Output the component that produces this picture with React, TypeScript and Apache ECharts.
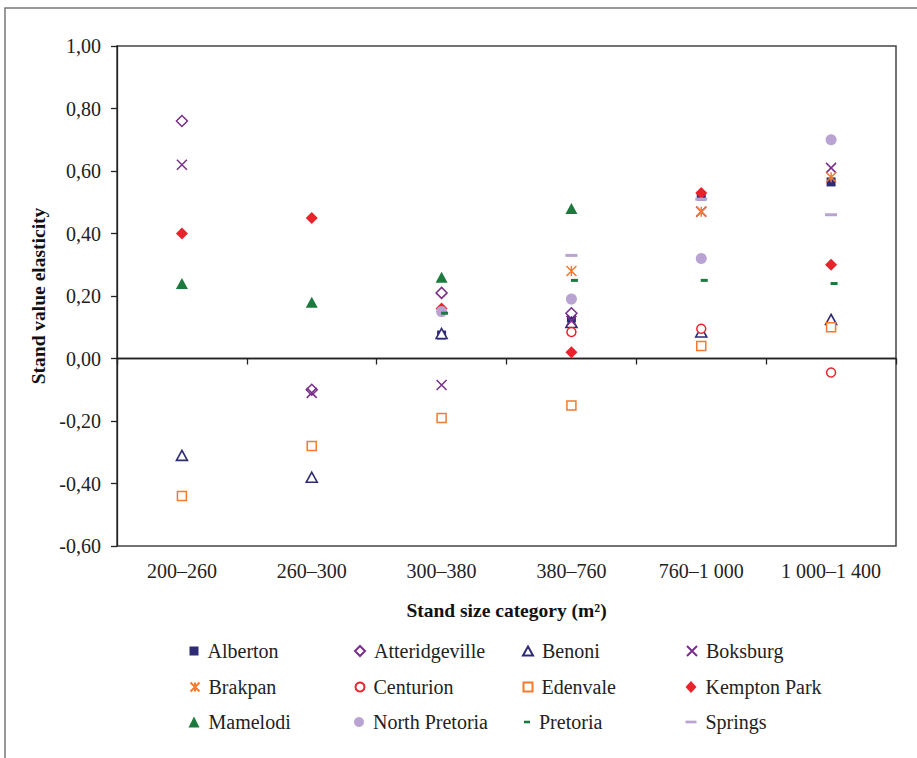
import React, { useEffect, useRef } from "react";
import * as echarts from "echarts";

// Stand size categories (m²) on the x axis
const categories = ["200–260", "260–300", "300–380", "380–760", "760–1 000", "1 000–1 400"];

// Stand value elasticity per area, one value per category (null = no estimate)
const alberton = [null, null, 0.075, 0.13, 0.52, 0.565];
const atteridgeville = [0.76, -0.1, 0.21, 0.145, null, null];
const benoni = [-0.31, -0.38, 0.08, 0.115, 0.085, 0.125];
const boksburg = [0.62, -0.11, -0.085, 0.12, 0.47, 0.61];
const brakpan = [null, null, null, 0.28, 0.47, 0.58];
const centurion = [null, null, null, 0.085, 0.095, -0.045];
const edenvale = [-0.44, -0.28, -0.19, -0.15, 0.04, 0.1];
const kemptonPark = [0.4, 0.45, 0.16, 0.02, 0.53, 0.3];
const mamelodi = [0.24, 0.18, 0.26, 0.48, null, null];
const northPretoria = [null, null, 0.15, 0.19, 0.32, 0.7];
const pretoria = [null, null, 0.145, 0.25, 0.25, 0.24];
const springs = [null, null, null, 0.33, 0.51, 0.46];

// Y axis range and step
const yMin = -0.6;
const yMax = 1.0;
const yStep = 0.2;

const FONT = "'Liberation Serif', 'Times New Roman', serif";
const NAVY = "#2c2b74";
const PURPLE = "#7a2e8c";
const ORANGE = "#f47a30";
const RED = "#e8232b";
const GREEN = "#1b7a3e";
const LILAC = "#b9a3d2";

const CROSS = "path://M0,0L10,10M10,0L0,10";
const STAR = "path://M0,0L10,10M10,0L0,10M5,0L5,10";
const DASH_S = "path://M0,0h7v3h-7z";
const DASH_L = "path://M0,0h12v3h-12z";

type Spec = {
  name: string;
  values: (number | null)[];
  symbol: string;
  size: number | number[];
  item: Record<string, unknown>;
  offset?: number[];
  legend: { x: number; y: number; w: number; h: number };
};

const ROWS = [651, 687, 722];
const COLS = [194, 359, 527, 691];

const specs: Spec[] = [
  { name: "Alberton", values: alberton, symbol: "rect", size: 9, item: { color: NAVY }, legend: { x: COLS[0], y: ROWS[0], w: 9, h: 9 } },
  { name: "Atteridgeville", values: atteridgeville, symbol: "diamond", size: 11, item: { color: "#fff", borderColor: PURPLE, borderWidth: 1.5 }, legend: { x: COLS[1], y: ROWS[0], w: 10, h: 10 } },
  { name: "Benoni", values: benoni, symbol: "triangle", size: [11, 10], item: { color: "#fff", borderColor: NAVY, borderWidth: 1.6 }, legend: { x: COLS[2], y: ROWS[0], w: 10, h: 9 } },
  { name: "Boksburg", values: boksburg, symbol: CROSS, size: 10, item: { color: "transparent", borderColor: PURPLE, borderWidth: 1.5 }, legend: { x: COLS[3], y: ROWS[0], w: 10, h: 10 } },
  { name: "Brakpan", values: brakpan, symbol: STAR, size: 10, item: { color: "transparent", borderColor: ORANGE, borderWidth: 1.5 }, legend: { x: COLS[0], y: ROWS[1], w: 9, h: 10 } },
  { name: "Centurion", values: centurion, symbol: "circle", size: 9, item: { color: "#fff", borderColor: RED, borderWidth: 1.5 }, legend: { x: COLS[1], y: ROWS[1], w: 9, h: 9 } },
  { name: "Edenvale", values: edenvale, symbol: "rect", size: 9, item: { color: "#fff", borderColor: ORANGE, borderWidth: 1.5 }, legend: { x: COLS[2], y: ROWS[1], w: 9, h: 9 } },
  { name: "Kempton Park", values: kemptonPark, symbol: "diamond", size: 12, item: { color: RED }, legend: { x: COLS[3], y: ROWS[1], w: 11, h: 12 } },
  { name: "Mamelodi", values: mamelodi, symbol: "triangle", size: [12, 11], item: { color: GREEN }, legend: { x: COLS[0], y: ROWS[2], w: 11, h: 11 } },
  { name: "North Pretoria", values: northPretoria, symbol: "circle", size: 11, item: { color: LILAC }, legend: { x: COLS[1], y: ROWS[2], w: 10, h: 10 } },
  { name: "Pretoria", values: pretoria, symbol: DASH_S, size: [7, 3], offset: [3, 0], item: { color: GREEN }, legend: { x: COLS[2], y: ROWS[2], w: 6, h: 3 } },
  { name: "Springs", values: springs, symbol: DASH_L, size: [12, 3], item: { color: LILAC }, legend: { x: COLS[3], y: ROWS[2], w: 11, h: 3 } },
];

const fmt = (v: number) => v.toFixed(2).replace(".", ",");

export default function App() {
  const ref = useRef<HTMLDivElement>(null);

  useEffect(() => {
    if (!ref.current) return;
    const chart = echarts.init(ref.current, null, { renderer: "svg" });

    const series = specs.map((s, si) => ({
      name: s.name,
      type: "scatter",
      symbol: s.symbol,
      symbolSize: s.size,
      symbolOffset: s.offset || [0, 0],
      itemStyle: { ...s.item, opacity: 1 },
      emphasis: { disabled: true },
      data: s.values
        .map((v, i) => (v === null ? null : [categories[i], v]))
        .filter((d) => d !== null),
      z: 3,
      ...(si === 0
        ? {
            markLine: {
              silent: true,
              symbol: ["none", "none"],
              label: { show: false },
              lineStyle: { color: "#222", type: "solid", width: 1.3 },
              data: [{ yAxis: 0 }],
              z: 1,
            },
          }
        : {}),
    }));

    const legends = specs.map((s) => ({
      data: [s.name],
      orient: "horizontal",
      left: s.legend.x - s.legend.w / 2,
      top: s.legend.y - 11,
      padding: 0,
      itemWidth: s.legend.w,
      itemHeight: s.legend.h,
      symbolKeepAspect: true,
      selectedMode: false,
      textStyle: {
        fontFamily: FONT,
        fontSize: 20,
        color: "#222",
        padding: [0, 0, 0, 4],
        lineHeight: 22,
      },
    }));

    chart.setOption({
      animation: false,
      backgroundColor: "#fff",
      textStyle: { fontFamily: FONT },
      grid: {
        left: 117,
        top: 46,
        right: 21,
        bottom: 212,
        show: true,
        borderColor: "#444",
        borderWidth: 1.5,
        backgroundColor: "transparent",
      },
      graphic: [
        {
          type: "rect",
          shape: { x: 5, y: 8, width: 1000, height: 1000 },
          style: { fill: "none", stroke: "#777", lineWidth: 1.5 },
          silent: true,
        },
      ],
      legend: legends,
      xAxis: {
        type: "category",
        data: categories,
        boundaryGap: true,
        name: "Stand size category (m²)",
        nameLocation: "middle",
        nameGap: 54,
        nameTextStyle: { fontFamily: FONT, fontSize: 19.5, fontWeight: "bold", color: "#111" },
        axisLine: { show: true, lineStyle: { color: "#222", width: 1.3 } },
        axisTick: { show: true, interval: 0, alignWithLabel: false, length: 6, lineStyle: { color: "#222", width: 1.3 } },
        axisLabel: { fontFamily: FONT, fontSize: 20, color: "#222", margin: 15, interval: 0, hideOverlap: false },
        splitLine: { show: false },
      },
      yAxis: {
        type: "value",
        min: yMin,
        max: yMax,
        interval: yStep,
        name: "Stand value elasticity",
        nameLocation: "middle",
        nameGap: 64,
        nameTextStyle: { fontFamily: FONT, fontSize: 19.5, fontWeight: "bold", color: "#111" },
        axisLine: { show: true, lineStyle: { color: "#222", width: 1.3 } },
        axisTick: { show: true, length: 6, lineStyle: { color: "#222", width: 1.3 } },
        axisLabel: {
          fontFamily: FONT,
          fontSize: 20,
          color: "#222",
          margin: 16,
          formatter: (v: number) => fmt(Math.round(v * 100) / 100),
        },
        splitLine: { show: false },
      },
      series,
    });

    return () => chart.dispose();
  }, []);

  return (
    <div
      ref={ref}
      style={{ position: "fixed", left: 0, top: 0, width: 917, height: 758, background: "#fff" }}
    />
  );
}
